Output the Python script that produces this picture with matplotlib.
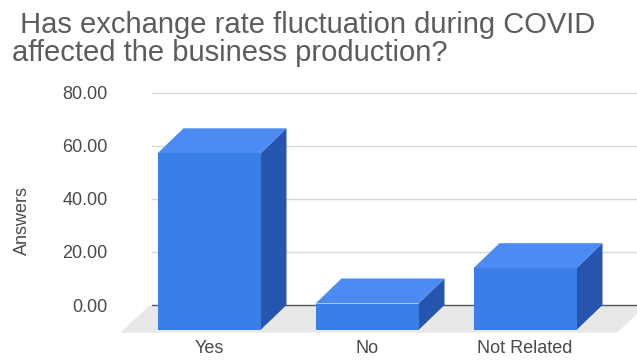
import matplotlib
matplotlib.use("Agg")
import matplotlib.pyplot as plt
from matplotlib.patches import Polygon

categories = ["Yes", "No", "Not Related"]
values = [66.67, 10.00, 23.33]
yticks = [0, 20, 40, 60, 80]
title_lines = [" Has exchange rate fluctuation during COVID", "affected the business production?"]
ylabel = "Answers"

plt.rcParams["font.family"] = ["Liberation Sans", "DejaVu Sans"]

W, H, DPI = 637, 360, 100
fig = plt.figure(figsize=(W / DPI, H / DPI), dpi=DPI)

# pixel geometry of the back wall
px_left, px_right = 152, 637
px_zero, px_80 = 305, 93
ppu_y = (px_zero - px_80) / 80.0
ppu_x = 158.0
x0_px = 209.0
ymin, ymax = -12, 81
bot_px = px_zero - ymin * ppu_y
top_px = px_zero - ymax * ppu_y
ax = fig.add_axes([px_left / W, (H - bot_px) / H, (px_right - px_left) / W, (bot_px - top_px) / H])
ax.set_xlim((px_left - x0_px) / ppu_x, (px_right - x0_px) / ppu_x)
ax.set_ylim(ymin, ymax)
for s in ax.spines.values():
    s.set_visible(False)

D = 25 / ppu_y      # depth in y units
DX = 26 / ppu_x     # depth in x units
w = 103 / ppu_x

# floor
fl = (120 - x0_px) / ppu_x
fr = (617 - x0_px) / ppu_x
fdx = 30 / ppu_x
ax.add_patch(Polygon([(fl, -D - 1), (fr, -D - 1), (fr + fdx, 0), (fl + fdx, 0)],
                     closed=True, facecolor="#e8e8e8", edgecolor="none", zorder=1, clip_on=False))

# gridlines
for t in yticks[1:]:
    ax.axhline(t, color="#d9d9d9", lw=1.0, zorder=0.5)
ax.axhline(0, color="#555555", lw=1.0, zorder=2)

ax.set_yticks(yticks)
ax.set_yticklabels([f"{t:.2f}" for t in yticks], fontsize=13, color="#4a4a4a")
ax.tick_params(axis="y", length=0, pad=32)
xs = list(range(len(categories)))
ax.set_xticks(xs)
ax.set_xticklabels(categories, fontsize=13, color="#4a4a4a")
ax.tick_params(axis="x", length=0, pad=2.5)

front_c, top_c, side_c = "#3b7ee8", "#4c8cf2", "#2655b0"
ax.bar(xs, values, width=w, bottom=-D, color=front_c, zorder=5, clip_on=False)
for i, v in zip(xs, values):
    l, r = i - w / 2, i + w / 2
    ax.add_patch(Polygon([(r, -D), (r + DX, 0), (r + DX, v), (r, v - D)], closed=True,
                         facecolor=side_c, edgecolor="none", zorder=4, clip_on=False))
    ax.add_patch(Polygon([(l, v - D), (r, v - D), (r + DX, v), (l + DX, v)], closed=True,
                         facecolor=top_c, edgecolor="none", zorder=4, clip_on=False))

fig.text(12 / W, 1 - 33 / H, title_lines[0], fontsize=21, color="#5c5c5c", ha="left", va="baseline")
fig.text(12 / W, 1 - 61 / H, title_lines[1], fontsize=21, color="#5c5c5c", ha="left", va="baseline")
fig.text(22 / W, 1 - 220 / H, ylabel, fontsize=13, color="#4a4a4a", rotation=90, ha="center", va="center")

fig.savefig("out.png", dpi=DPI)
